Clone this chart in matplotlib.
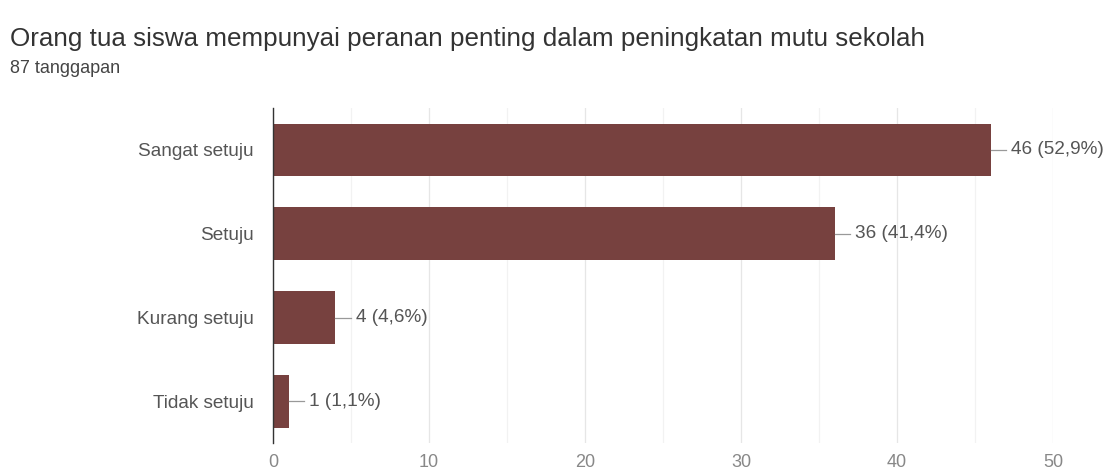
import matplotlib.pyplot as plt
import numpy as np

plt.rcParams['font.family'] = ['Liberation Sans', 'DejaVu Sans']

# survey answers (top to bottom) and their counts
categories = ['Sangat setuju', 'Setuju', 'Kurang setuju', 'Tidak setuju']
counts = [46, 36, 4, 1]
percents = ['52,9%', '41,4%', '4,6%', '1,1%']
total = 87

title = 'Orang tua siswa mempunyai peranan penting dalam peningkatan mutu sekolah'
subtitle = f'{total} tanggapan'

bar_color = '#77413f'

fig = plt.figure(figsize=(11.11, 4.74), dpi=100)
fig.text(0.009, 0.902, title, fontsize=18.7, color='#333333', va='baseline')
fig.text(0.009, 0.847, subtitle, fontsize=13, color='#444444', va='baseline')

ax = fig.add_axes([0.2457, 0.065, 0.7021, 0.707])
y = np.arange(len(categories))
ax.barh(y, counts, height=0.63, color=bar_color, zorder=3)

ax.set_xlim(0, 50)
ax.set_ylim(len(categories) - 0.5, -0.5)
ax.set_xticks(np.arange(0, 51, 10))
ax.set_xticks(np.arange(5, 50, 10), minor=True)
ax.set_yticks(y)
ax.set_yticklabels(categories)
ax.grid(axis='x', which='major', color='#e6e6e6', linewidth=0.9, zorder=0)
ax.grid(axis='x', which='minor', color='#f2f2f2', linewidth=0.9, zorder=0)
ax.tick_params(axis='y', length=0, pad=14, labelsize=13.7, labelcolor='#555555')
ax.tick_params(axis='x', which='both', length=0, pad=8, labelsize=13, labelcolor='#888888')

for s in ['top', 'right', 'bottom']:
    ax.spines[s].set_visible(False)
ax.spines['left'].set_color('#333333')
ax.spines['left'].set_linewidth(1.0)
ax.spines['left'].set_zorder(4)

# value labels with a short leader line
for yi, c, p in zip(y, counts, percents):
    ax.plot([c, c + 1.0], [yi, yi], color='#999999', linewidth=0.9, zorder=4)
    ax.text(c + 1.3, yi, f'{c} ({p})', va='center', ha='left',
            fontsize=13.7, color='#555555')

fig.savefig('out.png', dpi=100, facecolor='white')
